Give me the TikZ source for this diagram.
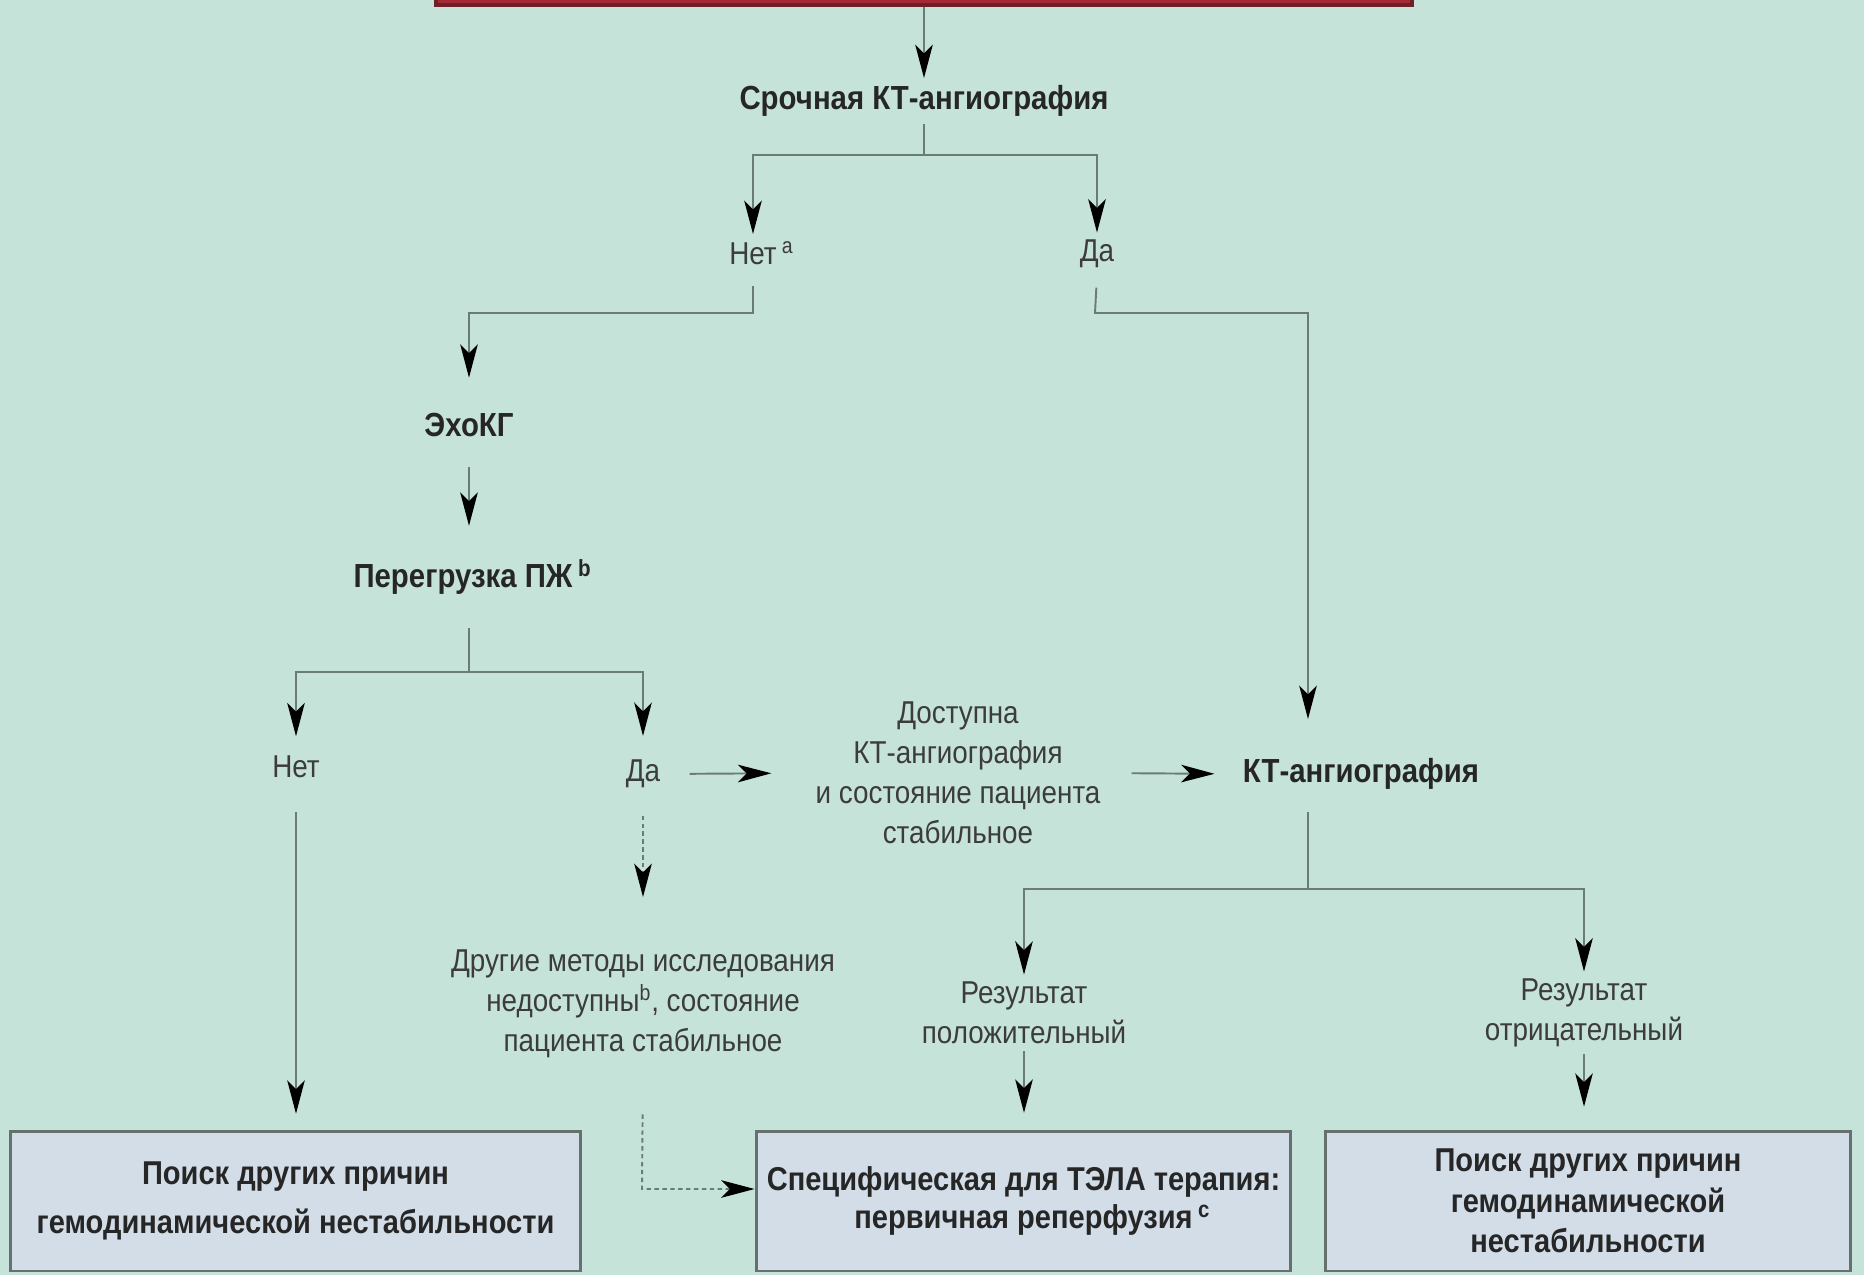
\documentclass[tikz,border=0pt]{standalone}
\usepackage{fontspec}
\setmainfont{Liberation Sans}[FakeStretch=0.88]
\usetikzlibrary{arrows.meta}
\definecolor{bgmint}{HTML}{C6E3DA}
\definecolor{boxblue}{HTML}{D3DDE8}
\definecolor{boxgrey}{HTML}{66706F}
\definecolor{linegrey}{HTML}{6B7B76}
\definecolor{txtgrey}{HTML}{3C3C3C}
\definecolor{alertred}{HTML}{A52A35}
\definecolor{alertdark}{HTML}{6E1F27}

\begin{document}
\begin{tikzpicture}[x=0.02cm, y=-0.02cm,
    txt/.style={inner xsep=0pt, inner ysep=4pt, align=center, text=txtgrey,
                font=\fontsize{18}{22.7}\selectfont},
    head/.style={txt, text=black!85, font=\fontsize{19}{23}\selectfont\bfseries},
    outcome/.style={rectangle, draw=boxgrey, line width=1.7pt, fill=boxblue,
                minimum height=2.8cm, inner sep=0pt, align=center, text=black!85,
                font=\fontsize{18.8}{23.2}\selectfont\bfseries},
    line/.style={draw=linegrey, line width=1.1pt},
    arr/.style={line, -{Stealth[length=19pt, width=10pt, inset=5pt, black]}},
    darr/.style={arr, dash pattern=on 2.5pt off 2pt}
  ]
    \useasboundingbox (0,0) rectangle (1864,1275);
    \fill[bgmint] (0,0) rectangle (1864,1275);
    \clip (0,0) rectangle (1864,1275);

    \node[draw=alertdark, line width=2pt, fill=alertred, minimum width=19.52cm,
          minimum height=0.8cm] (top) at (924,-15) {};

    % text nodes
    \node[head] (ct1)  at (924,101)  {Срочная КТ-ангиография};
    \node[txt]  (net1) at (753,253)  {Нет\rlap{\,\textsuperscript{a}}};
    \node[txt]  (da1)  at (1097,254) {Да};
    \node[head] (echo) at (469,425)  {ЭхоКГ};
    \node[head] (rv)   at (463,577)  {Перегрузка ПЖ\rlap{\,\textsuperscript{b}}};
    \node[txt]  (net2) at (296,767)  {Нет};
    \node[txt]  (da2)  at (643,774)  {Да};
    \node[txt]  (avail) at (958,773) {Доступна\\КТ-ангиография\\и состояние пациента\\стабильное};
    \node[head] (ct2)  at (1361,774) {КТ-ангиография};
    \node[txt]  (other) at (643,1004) {Другие методы исследования\\недоступны\textsuperscript{b}, состояние\\пациента стабильное};
    \node[txt]  (pos)  at (1024,1013) {Результат\\положительный};
    \node[txt]  (neg)  at (1584,1013) {Результат\\отрицательный};

    % outcome boxes
    \node[outcome, minimum width=11.42cm] (box1) at (295.5,1201)
         {Поиск других причин\\[5pt]гемодинамической нестабильности};
    \node[outcome, minimum width=10.7cm] (box2) at (1023.5,1201)
         {Специфическая для ТЭЛА терапия:\\[-1.5pt]первичная реперфузия\rlap{\,\textsuperscript{c}}};
    \node[outcome, minimum width=10.52cm] (box3) at (1588,1201)
         {Поиск других причин\\гемодинамической\\нестабильности};

    \coordinate (fork1) at (924,155);
    \coordinate (fork2) at (753,313);
    \coordinate (fork3) at (1095,313);
    \coordinate (c2in)  at (1308,719);
    \coordinate (fork4) at (469,672);
    \coordinate (fork5) at (1308,889);
    \coordinate (bend)  at (642,1189);

    % connectors
    \draw[arr] (top.south) -- (ct1.north);
    \draw[line] (ct1.south) -- (fork1);
    \draw[arr] (fork1) -| (net1.north);
    \draw[arr] (fork1) -| (da1.north);
    \draw[arr, shorten <=8pt, shorten >=16pt] (net1.south) -- (fork2) -| (echo.north);
    \draw[arr, shorten <=7pt] (da1.south) -- (fork3) -| (c2in);
    \draw[arr, shorten <=13pt, shorten >=15pt] (echo.south) -- (echo.south |- rv.north);
    \draw[line, shorten <=15pt] (echo.south |- rv.south) -- (fork4);
    \draw[arr, shorten >=7pt] (fork4) -| (net2.north);
    \draw[arr, shorten >=9.5pt] (fork4) -| (da2.north);
    \draw[arr, shorten <=16.5pt, shorten >=25pt] (da2.east) -- (avail.west);
    \draw[arr, shorten <=17.5pt, shorten >=16pt] (avail.east) -- (ct2.west);
    \draw[line, shorten <=8.5pt] (c2in |- ct2.south) -- (fork5);
    \draw[arr] (fork5) -| (pos.north);
    \draw[arr] (fork5) -| (neg.north);
    \draw[arr, shorten >=9.5pt] (pos.south) -- (pos.south |- box2.north);
    \draw[arr, shorten >=13pt] (neg.south) -- (neg.south |- box3.north);
    \draw[arr, shorten <=15pt, shorten >=9pt] (net2.south) -- (net2.south |- box1.north);
    \draw[darr, shorten <=11.5pt, shorten >=26pt] (da2.south) -- (other.north);
    \draw[darr, shorten <=28pt] (other.south) -- (bend) -- (bend -| box2.west);
\end{tikzpicture}
\end{document}
